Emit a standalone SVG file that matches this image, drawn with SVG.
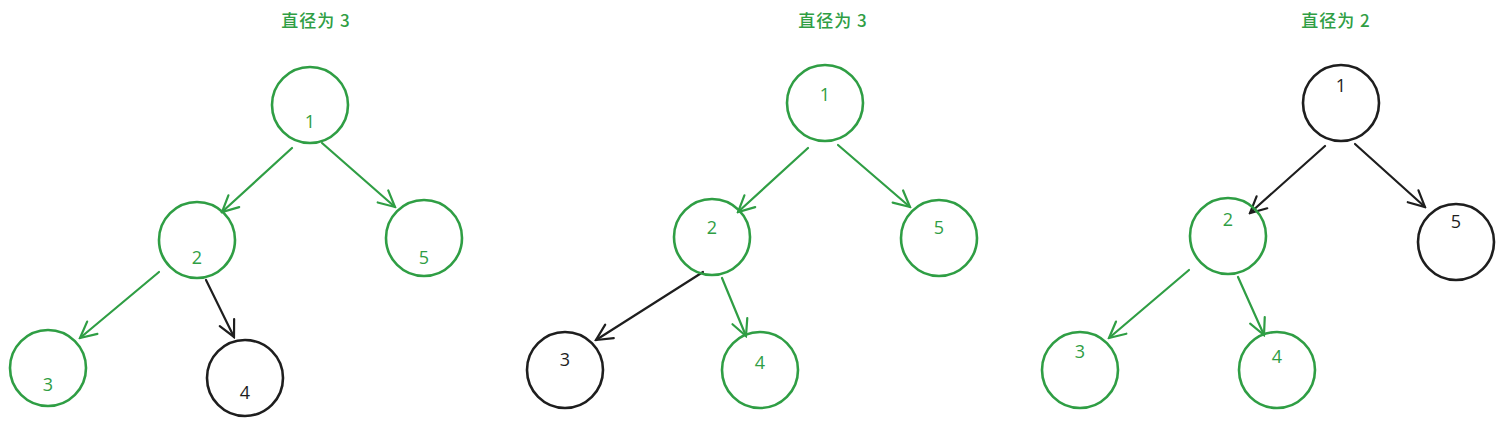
<svg xmlns="http://www.w3.org/2000/svg" width="1503" height="425" viewBox="0 0 1503 425">
<style>
.g{fill:none;stroke:#2f9e44;stroke-width:2.6}
.k{fill:none;stroke:#1e1e1e;stroke-width:2.6}
.tg{fill:#2f9e44;font-family:"Open Sans","Noto Sans",sans-serif;font-size:18px;text-anchor:middle}
.tk{fill:#1e1e1e;font-family:"Open Sans","Noto Sans",sans-serif;font-size:18px;text-anchor:middle}
.title{fill:#2f9e44;font-family:"Noto Sans CJK SC","Noto Sans",sans-serif;font-size:17px;font-weight:500;text-anchor:middle;letter-spacing:1px}
.eg{fill:none;stroke:#2f9e44;stroke-width:2.2;stroke-linecap:round}
.ek{fill:none;stroke:#1e1e1e;stroke-width:2.2;stroke-linecap:round}
</style>
<defs>
<marker id="ag" viewBox="0 0 20 20" refX="18" refY="10" markerWidth="20" markerHeight="20" markerUnits="userSpaceOnUse" orient="auto">
<path d="M2 2 L18 10 L2 18" fill="none" stroke="#2f9e44" stroke-width="2.2" stroke-linecap="round"/>
</marker>
<marker id="ak" viewBox="0 0 20 20" refX="18" refY="10" markerWidth="20" markerHeight="20" markerUnits="userSpaceOnUse" orient="auto">
<path d="M2 2 L18 10 L2 18" fill="none" stroke="#1e1e1e" stroke-width="2.2" stroke-linecap="round"/>
</marker>
</defs>
<rect width="1503" height="425" fill="#ffffff"/>
<text class="title" x="316" y="27">直径为 3</text>
<text class="title" x="833" y="27">直径为 3</text>
<text class="title" x="1336" y="27">直径为 2</text>
<g id="connectors">
<line class="eg" x1="292" y1="148" x2="222" y2="212" marker-end="url(#ag)"/>
<line class="eg" x1="322" y1="143" x2="395" y2="207" marker-end="url(#ag)"/>
<line class="eg" x1="159" y1="272" x2="80" y2="338" marker-end="url(#ag)"/>
<line class="ek" x1="206" y1="280" x2="234" y2="337" marker-end="url(#ak)"/>
<line class="eg" x1="808" y1="148" x2="738" y2="212" marker-end="url(#ag)"/>
<line class="eg" x1="838" y1="145" x2="910" y2="207" marker-end="url(#ag)"/>
<line class="ek" x1="703" y1="272" x2="596" y2="340" marker-end="url(#ak)"/>
<line class="eg" x1="722" y1="278" x2="746" y2="336" marker-end="url(#ag)"/>
<line class="ek" x1="1325" y1="146" x2="1250" y2="213" marker-end="url(#ak)"/>
<line class="ek" x1="1355" y1="144" x2="1425" y2="207" marker-end="url(#ak)"/>
<line class="eg" x1="1189" y1="270" x2="1109" y2="338" marker-end="url(#ag)"/>
<line class="eg" x1="1238" y1="277" x2="1264" y2="335" marker-end="url(#ag)"/>
</g>
<g id="t1n1"><circle class="g" cx="310" cy="105" r="38"/><text class="tg" x="310" y="128">1</text></g>
<g id="t1n2"><circle class="g" cx="197" cy="240" r="38"/><text class="tg" x="197" y="264">2</text></g>
<g id="t1n5"><circle class="g" cx="424" cy="238" r="38"/><text class="tg" x="424" y="264">5</text></g>
<g id="t1n3"><circle class="g" cx="48" cy="368" r="38"/><text class="tg" x="48" y="391">3</text></g>
<g id="t1n4"><circle class="k" cx="245" cy="378" r="38"/><text class="tk" x="245" y="399">4</text></g>
<g id="t2n1"><circle class="g" cx="825" cy="103" r="38"/><text class="tg" x="825" y="101">1</text></g>
<g id="t2n2"><circle class="g" cx="712" cy="237" r="38"/><text class="tg" x="712" y="234">2</text></g>
<g id="t2n5"><circle class="g" cx="939" cy="238" r="38"/><text class="tg" x="939" y="234">5</text></g>
<g id="t2n3"><circle class="k" cx="565" cy="370" r="38"/><text class="tk" x="565" y="366">3</text></g>
<g id="t2n4"><circle class="g" cx="760" cy="370" r="38"/><text class="tg" x="760" y="369">4</text></g>
<g id="t3n1"><circle class="k" cx="1341" cy="103" r="38"/><text class="tk" x="1341" y="92">1</text></g>
<g id="t3n2"><circle class="g" cx="1228" cy="236" r="38"/><text class="tg" x="1228" y="226">2</text></g>
<g id="t3n5"><circle class="k" cx="1456" cy="242" r="38"/><text class="tk" x="1456" y="228">5</text></g>
<g id="t3n3"><circle class="g" cx="1080" cy="370" r="38"/><text class="tg" x="1080" y="358">3</text></g>
<g id="t3n4"><circle class="g" cx="1277" cy="370" r="38"/><text class="tg" x="1277" y="363">4</text></g>
</svg>
